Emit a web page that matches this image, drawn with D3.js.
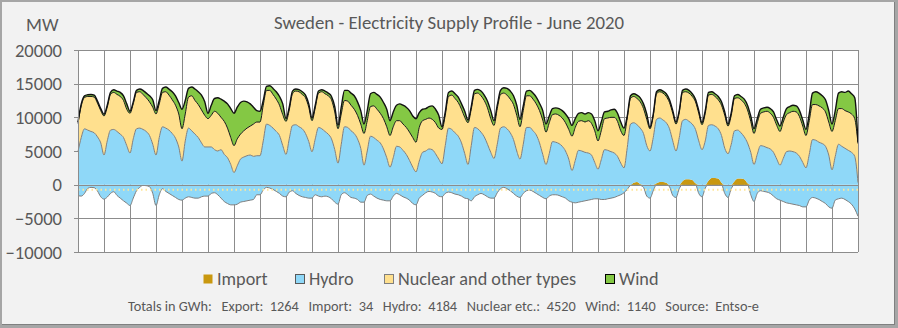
<!DOCTYPE html>
<html>
<head>
<meta charset="utf-8">
<script src="https://cdn.jsdelivr.net/npm/d3@7"></script>
<style>
  html, body { margin: 0; padding: 0; background: #ffffff; }
  svg { display: block; font-family: "Carlito", "Lato", sans-serif; }
</style>
</head>
<body>
<svg id="chart" width="898" height="328"></svg>
<script>
// ---------------- DATA (MW, one value every 3 hours, June 2020; last value = end of month) ----------------
const title = "Sweden - Electricity Supply Profile - June 2020";
const unitLabel = "MW";
const yTicks = [-10000, -5000, 0, 5000, 10000, 15000, 20000];
const dayCount = 30;
const hourStep = 3;
const legendNames = ["Import", "Hydro", "Nuclear and other types", "Wind"];
const totalsLabels = ["Export:", "Import:", "Hydro:", "Nuclear etc.:", "Wind:"];
const totalsValues = [1264, 34, 4184, 4520, 1140];
const sourceText = "Entso-e";
const dottedLevel = -750;

const wind = [
  200,300,250,250,300,300,300,300,
  250,300,300,400,500,600,700,800,
  300,300,300,400,600,700,900,1100,
  500,500,600,700,900,1200,1400,1700,
  2900,2000,1300,1300,1700,1900,2200,2000,
  800,1500,1900,2300,2700,3000,3600,4300,
  4800,4700,4700,4400,3900,3300,2500,1700,
  1600,700,600,700,900,1100,1300,1600,
  400,400,400,300,300,400,400,500,
  400,400,300,300,400,400,500,800,
  500,1000,1500,1600,1800,2000,2000,2000,
  1400,1500,1900,2000,2200,2400,2400,2600,
  2200,2200,2300,2500,2800,3000,3200,3200,
  3500,2200,1700,1600,1700,2000,2000,1900,
  400,500,600,600,700,800,800,900,
  400,400,500,550,700,800,1000,1200,
  700,500,600,800,1000,1200,1300,1500,
  1100,700,700,800,900,1000,1100,1400,
  1200,1000,900,900,1000,1100,1300,1600,
  1600,1300,1200,1200,1200,1200,1400,1500,
  1500,1300,1000,1000,1100,1200,1200,1300,
  1100,300,400,400,500,600,700,800,
  200,300,300,300,300,400,400,400,
  300,300,300,400,400,400,400,400,
  300,400,400,400,400,500,500,500,
  300,400,400,500,500,600,700,800,
  700,600,600,600,600,700,800,800,
  800,700,900,900,900,900,900,900,
  900,1000,1700,1900,1900,1800,1800,1700,
  1100,1500,2300,2500,2700,3100,3000,3100,
  200
];

const nuclear = [
  4200,4700,4650,5000,5200,5300,5000,4800,
  5800,5000,5300,5500,5500,5600,5500,5400,
  5900,5200,5400,5400,5200,5000,5000,5500,
  6100,5000,5100,5400,5200,5000,4900,4900,
  4800,4000,4600,5200,5000,4900,4900,4700,
  4200,4700,5700,5600,4800,4900,4400,4000,
  4000,4000,3700,3900,4100,4300,4800,5000,
  5000,5300,5000,5200,5000,4800,4500,4600,
  4900,4300,4700,5000,5200,5100,5300,5100,
  4600,4600,5100,5500,5600,5700,5800,5600,
  5100,4500,3900,3900,3800,3600,3500,3600,
  4700,4500,4400,4700,4600,4400,4500,4600,
  4700,4600,3800,3900,3900,4000,4200,4400,
  4400,5000,4700,4700,4600,4500,4600,4600,
  5100,4500,4700,5100,5100,5000,5000,5400,
  6200,5400,5000,5300,5400,5400,5400,5000,
  4900,5300,5000,5000,5000,5000,5200,5300,
  4800,5000,4700,4700,4700,4600,4800,5100,
  4800,4600,4000,4200,4200,4200,4200,4400,
  5100,4900,4300,4500,4500,4800,4700,4700,
  4200,4300,4600,4800,5100,5300,5200,4800,
  4800,4400,3800,3900,3900,3900,3700,3900,
  3300,3200,3800,3900,4000,3900,3900,4100,
  4000,3700,4200,4100,4200,4100,4100,4100,
  3700,4100,4500,4500,4400,4300,4500,4900,
  4100,4300,4800,4800,4900,5000,4900,4600,
  4600,4700,4800,5100,5400,5300,5200,5000,
  5000,5400,5500,5700,6000,6100,5900,5400,
  4800,5000,5200,5300,5400,5300,5100,4900,
  5700,5300,5300,5600,5600,5700,5700,5600,
  5800
];

const hydro = [
  4900,7000,8300,8100,7900,7700,7100,6200,
  4400,6500,8100,8200,7900,7500,7000,5800,
  4700,6800,8300,8400,8200,7900,7300,6000,
  4400,7000,8600,8400,8100,7600,6900,5600,
  3500,6500,8400,8000,7500,7000,6200,5600,
  5600,5600,5200,5000,5200,4500,4000,3000,
  1800,2800,3800,4100,4300,4400,4200,4300,
  4300,6500,9000,8800,8400,7900,7300,5800,
  4500,6800,8800,8900,8600,8300,7600,6400,
  4900,6800,8500,8300,7900,7500,6800,5200,
  3200,6000,8600,8500,8000,7600,6800,5400,
  2900,5000,7200,7000,6600,6200,5300,4000,
  2600,4000,5700,5600,5100,4500,3600,2600,
  1900,3500,4800,5000,5300,5200,4600,3800,
  3100,5800,8400,8200,7700,7200,6200,4600,
  3000,5800,8500,8300,7800,7100,6000,4800,
  3900,6000,8400,8600,8300,7700,6700,5000,
  3800,6000,8500,8500,8000,7400,6200,4500,
  3000,4600,6400,6300,6100,5700,5000,3800,
  2100,3600,5100,5000,4800,4700,4400,3300,
  2300,3700,5200,5100,4900,4700,4200,3200,
  2500,5500,9000,8900,8500,8300,7600,5800,
  5000,7000,9500,9500,9200,8900,8300,6500,
  5000,7000,9000,8900,8600,8300,8000,6500,
  5200,6500,8200,7900,7700,7400,7000,5400,
  4600,6000,7500,7200,6800,6300,6000,4800,
  3000,4500,5800,5700,5500,5300,4800,3800,
  2900,3900,4900,5000,4900,4700,4200,3300,
  2500,4500,6700,6600,6300,6100,5700,4400,
  2200,4200,6000,5700,5400,5100,4800,4200,
  300
];

const importVals = [
  0,0,0,0,0,0,0,0, 0,0,0,0,0,0,0,0, 0,0,0,0,0,0,0,0, 0,0,0,0,0,0,0,0,
  0,0,0,0,0,0,0,0, 0,0,0,0,0,0,0,0, 0,0,0,0,0,0,0,0, 0,0,0,0,0,0,0,0,
  0,0,0,0,0,0,0,0, 0,0,0,0,0,0,0,0, 0,0,0,0,0,0,0,0, 0,0,0,0,0,0,0,0,
  0,0,0,0,0,0,0,0, 0,0,0,0,0,0,0,0, 0,0,0,0,0,0,0,0, 0,0,0,0,0,0,0,0,
  0,0,0,0,0,0,0,0, 0,0,0,0,0,0,0,0, 0,0,0,0,0,0,0,0, 0,0,0,0,0,0,0,0,
  0,0,0,0,0,0,0,0,
  0,0,0,300,400,100,0,0,
  0,0,200,400,400,300,0,0,
  0,0,500,800,800,700,200,0,
  0,0,600,1000,1000,900,300,0,
  0,0,500,900,900,800,200,0,
  0,0,0,0,0,0,0,0, 0,0,0,0,0,0,0,0, 0,0,0,0,0,0,0,0, 0,0,0,0,0,0,0,0,
  0
];

const exportVals = [
  -1650,-1700,-1300,-550,-400,-450,-950,-1800,
  -2150,-1850,-1300,-1050,-1600,-2000,-2400,-2750,
  -3100,-2000,-900,-400,-100,-150,-300,-1300,
  -3100,-1500,-600,-1000,-1300,-1600,-1900,-2200,
  -2300,-2000,-1800,-1900,-2000,-2000,-1800,-1700,
  -1700,-1300,-1200,-1500,-2000,-2500,-2800,-3000,
  -3000,-2900,-2600,-2500,-2400,-2300,-2200,-1500,
  -1500,-800,-400,-500,-700,-1000,-1300,-1700,
  -1800,-1100,-900,-1300,-1600,-1800,-1900,-2000,
  -2000,-1500,-1700,-1800,-1700,-1800,-2100,-2600,
  -2900,-1500,-1200,-1500,-1900,-2000,-2200,-2600,
  -2600,-1600,-1400,-1700,-2000,-2200,-2300,-2400,
  -2400,-1700,-1300,-1500,-1800,-2000,-2300,-2800,
  -3000,-2000,-1600,-1200,-1000,-1100,-1300,-1700,
  -1800,-1300,-1100,-1200,-1400,-1500,-1700,-2000,
  -2100,-2400,-1800,-1500,-1300,-1500,-1800,-2000,
  -2000,-1200,-600,-400,-600,-900,-1300,-1700,
  -1900,-1300,-900,-800,-1000,-1300,-1600,-1900,
  -2100,-1700,-1500,-1500,-1600,-1800,-2000,-2400,
  -2600,-2700,-2600,-2500,-2400,-2300,-2200,-2100,
  -2100,-2200,-2200,-2100,-2000,-1900,-1700,-1500,
  -1200,-700,-100,0,0,-100,-400,-1700,
  -2000,-900,0,0,0,0,-300,-1600,
  -1900,-600,0,0,0,0,0,-1300,
  -1800,-500,0,0,0,0,0,-1300,
  -1900,-600,0,0,0,0,0,-1500,
  -2500,-1300,-900,-1000,-1100,-1300,-1700,-2100,
  -2300,-2500,-2700,-2800,-2900,-3000,-3100,-3300,
  -3300,-2300,-1900,-2000,-2200,-2500,-2800,-3300,
  -3500,-2300,-2100,-2000,-2200,-2500,-2900,-3600,
  -4700
];

// ---------------- CHART ----------------
const W = 898, H = 328;
const plot = { left: 78, right: 858, top: 50, bottom: 252 };
const totalHours = dayCount * 24;
const hours = exportVals.map((_, i) => Math.min(i * hourStep, totalHours));
hours[hours.length - 1] = totalHours;

const data = hours.map((h, i) => ({
  h,
  Import: importVals[i],
  Hydro: hydro[i],
  Nuclear: nuclear[i],
  Wind: wind[i],
  Export: exportVals[i]
}));

const x = d3.scaleLinear().domain([0, totalHours]).range([plot.left, plot.right]);
const y = d3.scaleLinear().domain([yTicks[0], yTicks[yTicks.length - 1]]).range([plot.bottom, plot.top]);

const colors = {
  Import: "#c9980f",
  Hydro: "#8fd8f8",
  Nuclear: "#ffe08e",
  Wind: "#84c844"
};
const textColor = "#595959";
const gridColor = "#8c8c8c";

const svg = d3.select("#chart");

// frame
svg.append("rect").attr("x", 0).attr("y", 0).attr("width", W).attr("height", H).attr("fill", "#a6a6a6");
svg.append("rect").attr("x", 2).attr("y", 2).attr("width", W - 5).attr("height", H - 5).attr("fill", "#808080");
svg.append("rect").attr("x", 2).attr("y", 2).attr("width", W - 6).attr("height", H - 6).attr("fill", "#f2f2f2");

// plot background
svg.append("rect")
  .attr("x", plot.left).attr("y", plot.top)
  .attr("width", plot.right - plot.left).attr("height", plot.bottom - plot.top)
  .attr("fill", "#ffffff");

// gridlines
const grid = svg.append("g").attr("stroke", gridColor).attr("stroke-width", 1).attr("shape-rendering", "crispEdges");
grid.selectAll("line.h").data(yTicks).join("line")
  .attr("x1", plot.left - 4).attr("x2", plot.right)
  .attr("y1", d => Math.round(y(d)) + 0.5).attr("y2", d => Math.round(y(d)) + 0.5);
grid.selectAll("line.v").data(d3.range(0, dayCount + 1)).join("line")
  .attr("x1", d => Math.round(x(d * 24)) + 0.5).attr("x2", d => Math.round(x(d * 24)) + 0.5)
  .attr("y1", plot.top).attr("y2", plot.bottom);

const curve = d3.curveMonotoneX;

// export (negative) area
const exportArea = d3.area().x(d => x(d.h)).y0(y(0)).y1(d => y(d.Export)).curve(curve);
svg.append("path").datum(data).attr("d", exportArea).attr("fill", colors.Hydro);
svg.append("path").datum(data)
  .attr("d", d3.line().x(d => x(d.h)).y(d => y(d.Export)).curve(curve))
  .attr("fill", "none").attr("stroke", "#7f7f7f").attr("stroke-width", 1);

// stacked positive supply
const keys = ["Import", "Hydro", "Nuclear", "Wind"];
const stacked = d3.stack().keys(keys)(data);
const area = d3.area().x(d => x(d.data.h)).y0(d => y(d[0])).y1(d => y(d[1])).curve(curve);
const topLine = d3.line().x(d => x(d.data.h)).y(d => y(d[1])).curve(curve);

svg.append("g").selectAll("path").data(stacked).join("path")
  .attr("d", area).attr("fill", s => colors[s.key]);

const lineStyles = {
  Import: { stroke: "#b38600", width: 0.6 },
  Hydro: { stroke: "#7f7f7f", width: 1 },
  Nuclear: { stroke: "#1a1a1a", width: 1 },
  Wind: { stroke: "#111111", width: 1.4 }
};
svg.append("g").selectAll("path").data(stacked.filter(s => s.key !== "Import")).join("path")
  .attr("d", topLine).attr("fill", "none")
  .attr("stroke", s => lineStyles[s.key].stroke)
  .attr("stroke-width", s => lineStyles[s.key].width)
  .attr("stroke-linejoin", "round");

// zero line and dotted level line on top
svg.append("line")
  .attr("x1", plot.left).attr("x2", plot.right)
  .attr("y1", Math.round(y(0)) + 0.5).attr("y2", Math.round(y(0)) + 0.5)
  .attr("stroke", gridColor).attr("stroke-width", 1).attr("shape-rendering", "crispEdges");
svg.append("line")
  .attr("x1", plot.left).attr("x2", plot.right)
  .attr("y1", y(dottedLevel)).attr("y2", y(dottedLevel))
  .attr("stroke", "#ffe699").attr("stroke-width", 2).attr("stroke-dasharray", "1.5,3");

// plot left/right edges on top
svg.append("g").attr("stroke", gridColor).attr("shape-rendering", "crispEdges")
  .selectAll("line").data([0, totalHours]).join("line")
  .attr("x1", d => Math.round(x(d)) + 0.5).attr("x2", d => Math.round(x(d)) + 0.5)
  .attr("y1", plot.top).attr("y2", plot.bottom);

// y tick labels
svg.append("g").selectAll("text").data(yTicks).join("text")
  .attr("x", 62).attr("y", d => y(d) + 6.5)
  .attr("text-anchor", "end").attr("font-size", 18.6).attr("fill", textColor)
  .text(d => d3.format("d")(d));

// unit & title
svg.append("text").attr("x", 26).attr("y", 31).attr("font-size", 18.6).attr("fill", textColor).text(unitLabel);
svg.append("text").attr("x", 449).attr("y", 29).attr("text-anchor", "middle")
  .attr("font-size", 18.8).attr("fill", textColor).text(title);

// legend
const legendX = [203, 295, 384, 605];
const legendKeys = ["Import", "Hydro", "Nuclear", "Wind"];
const legendStroke = { Import: "none", Hydro: "#595959", Nuclear: "#7f7f7f", Wind: "#000000" };
const lg = svg.append("g");
legendKeys.forEach((k, i) => {
  lg.append("rect").attr("x", legendX[i] + 0.5).attr("y", 274.5).attr("width", 9).attr("height", 9)
    .attr("fill", colors[k]).attr("stroke", legendStroke[k]).attr("stroke-width", 1);
  lg.append("text").attr("x", legendX[i] + 14).attr("y", 285)
    .attr("font-size", 18.2).attr("fill", textColor).text(legendNames[i]);
});

// totals footer
const footer = svg.append("text").attr("x", 128).attr("y", 311).attr("font-size", 14.3).attr("fill", textColor)
  .attr("style", "white-space:pre");
let footerStr = "Totals in GWh:   ";
totalsLabels.forEach((l, i) => { footerStr += l + "  " + totalsValues[i] + "   "; });
footerStr += "Source:  " + sourceText;
footer.text(footerStr);
</script>
</body>
</html>
